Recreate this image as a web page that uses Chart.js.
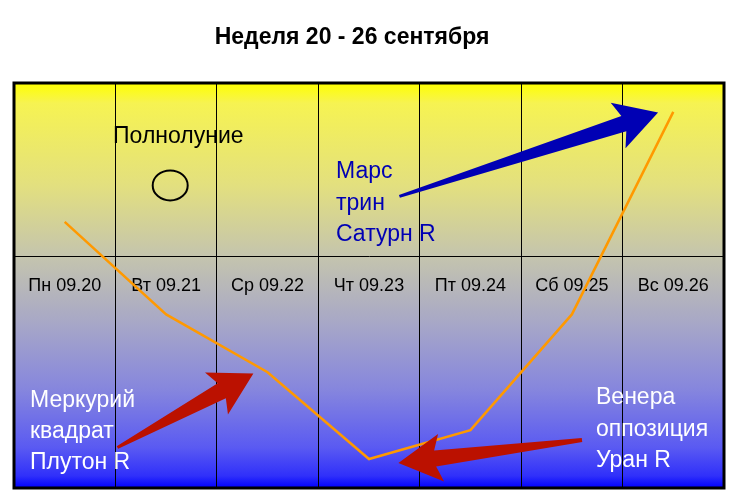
<!DOCTYPE html>
<html>
<head>
<meta charset="utf-8">
<script src="https://cdn.jsdelivr.net/npm/chart.js@4.4.1/dist/chart.umd.min.js"></script>
<style>
  html, body { margin: 0; padding: 0; background: #fff; }
  #wrap { width: 738px; height: 504px; }
</style>
</head>
<body>
<div id="wrap"><canvas id="weekChart" width="738" height="504"></canvas></div>
<script>
// Week chart data
const DAYS = ['Пн 09.20', 'Вт 09.21', 'Ср 09.22', 'Чт 09.23', 'Пт 09.24', 'Сб 09.25', 'Вс 09.26'];
const MOOD = [0.6, -1, -2, -3.5, -3, -1, 2.5];
const Y_MIN = -4;
const Y_MAX = 3;
const TITLE = 'Неделя 20 - 26 сентября';

const FONT = '"Liberation Sans", Arial, sans-serif';

// small helpers for the drawings on top of the plot
function arrow(ctx, x0, y0, x1, y1, o) {
    const dx = x1 - x0, dy = y1 - y0;
    const len = Math.hypot(dx, dy);
    const ux = dx / len, uy = dy / len;
    const nx = -uy, ny = ux;
    const bx = x1 - ux * o.head, by = y1 - uy * o.head;
    const sx = bx - ux * o.sweep, sy = by - uy * o.sweep;
    ctx.save();
    ctx.fillStyle = o.color;
    ctx.beginPath();
    ctx.moveTo(x0 + nx * o.tail / 2, y0 + ny * o.tail / 2);
    ctx.lineTo(bx + nx * o.shaft / 2, by + ny * o.shaft / 2);
    ctx.lineTo(sx + nx * o.wing, sy + ny * o.wing);
    ctx.lineTo(x1, y1);
    ctx.lineTo(sx - nx * o.wing, sy - ny * o.wing);
    ctx.lineTo(bx - nx * o.shaft / 2, by - ny * o.shaft / 2);
    ctx.lineTo(x0 - nx * o.tail / 2, y0 - ny * o.tail / 2);
    ctx.closePath();
    ctx.fill();
    ctx.restore();
}

function lines(ctx, list, x, y, step, font, color, align) {
    ctx.save();
    ctx.font = font;
    ctx.fillStyle = color;
    ctx.textAlign = align || 'left';
    ctx.textBaseline = 'middle';
    list.forEach((t, i) => ctx.fillText(t, x, y + i * step));
    ctx.restore();
}

const backdrop = {
    id: 'backdrop',
    beforeDraw(chart) {
        const { ctx, chartArea: a } = chart;
        const g = ctx.createLinearGradient(0, a.top, 0, a.bottom);
        g.addColorStop(0, '#ffff00');
        g.addColorStop(0.05, '#f6f352');
        g.addColorStop(0.25, '#e3e07e');
        g.addColorStop(0.43, '#c4c4ae');
        g.addColorStop(0.6, '#a6a6c8');
        g.addColorStop(0.76, '#8585de');
        g.addColorStop(0.9, '#5a5af2');
        g.addColorStop(0.97, '#3030fa');
        g.addColorStop(1, '#0000ff');
        ctx.save();
        ctx.fillStyle = g;
        ctx.fillRect(a.left, a.top, a.right - a.left, a.bottom - a.top);
        ctx.restore();
    },
    afterDraw(chart) {
        const { ctx, chartArea: a } = chart;
        const x = chart.scales.x, y = chart.scales.y;
        const px = i => x.getPixelForValue(i);
        const py = v => y.getPixelForValue(v);

        // frame
        ctx.save();
        ctx.strokeStyle = '#000';
        ctx.lineWidth = 3;
        ctx.strokeRect(a.left, a.top, a.right - a.left, a.bottom - a.top);
        ctx.restore();

        // title
        lines(ctx, [TITLE], 352, 38, 0, 'bold 23px ' + FONT, '#000', 'center');

        // full moon
        lines(ctx, ['Полнолуние'], px(1.12), py(2.08), 0, '23px ' + FONT, '#000', 'center');
        ctx.save();
        ctx.strokeStyle = '#000';
        ctx.lineWidth = 2;
        ctx.beginPath();
        ctx.ellipse(px(1.04), py(1.23), 17.5, 15, 0, 0, Math.PI * 2);
        ctx.stroke();
        ctx.restore();

        // Mars
        lines(ctx, ['Марс', 'трин', 'Сатурн R'], 336, 172, 31.5, '23px ' + FONT, '#0000b4');
        arrow(ctx, px(3.3), py(1.04), px(5.85), py(2.49),
            { color: '#0000b4', tail: 3, shaft: 16, head: 36, sweep: 6, wing: 24 });

        // Mercury
        lines(ctx, ['Меркурий', 'квадрат', 'Плутон R'], 30, 401, 31, '23px ' + FONT, '#ffffff');
        arrow(ctx, px(0.52), py(-3.3), px(1.86), py(-2.02),
            { color: '#bb1100', tail: 3, shaft: 17, head: 36, sweep: 6, wing: 24 });

        // Venus
        lines(ctx, ['Венера', 'оппозиция', 'Уран R'], 596, 398, 31.5, '23px ' + FONT, '#ffffff');
        arrow(ctx, px(5.1), py(-3.17), px(3.29), py(-3.57),
            { color: '#bb1100', tail: 4, shaft: 16, head: 37, sweep: 6, wing: 24 });
    }
};

const ctx = document.getElementById('weekChart').getContext('2d');
new Chart(ctx, {
    type: 'line',
    data: {
        labels: DAYS,
        datasets: [{
            data: MOOD,
            borderColor: '#ff9900',
            borderWidth: 2.5,
            pointRadius: 0,
            tension: 0,
            fill: false
        }]
    },
    options: {
        responsive: false,
        animation: false,
        events: [],
        layout: { padding: { left: 14, right: 14, top: 83, bottom: 16 } },
        plugins: {
            legend: { display: false },
            title: { display: false },
            tooltip: { enabled: false }
        },
        scales: {
            x: {
                position: { y: 0 },
                offset: true,
                grid: {
                    offset: true,
                    color: '#000',
                    lineWidth: 1,
                    drawTicks: false
                },
                border: { display: true, color: '#000', width: 1 },
                ticks: {
                    color: '#000',
                    padding: 19,
                    maxRotation: 0,
                    font: { family: FONT, size: 18 }
                }
            },
            y: {
                display: false,
                min: Y_MIN,
                max: Y_MAX
            }
        }
    },
    plugins: [backdrop]
});
</script>
</body>
</html>
